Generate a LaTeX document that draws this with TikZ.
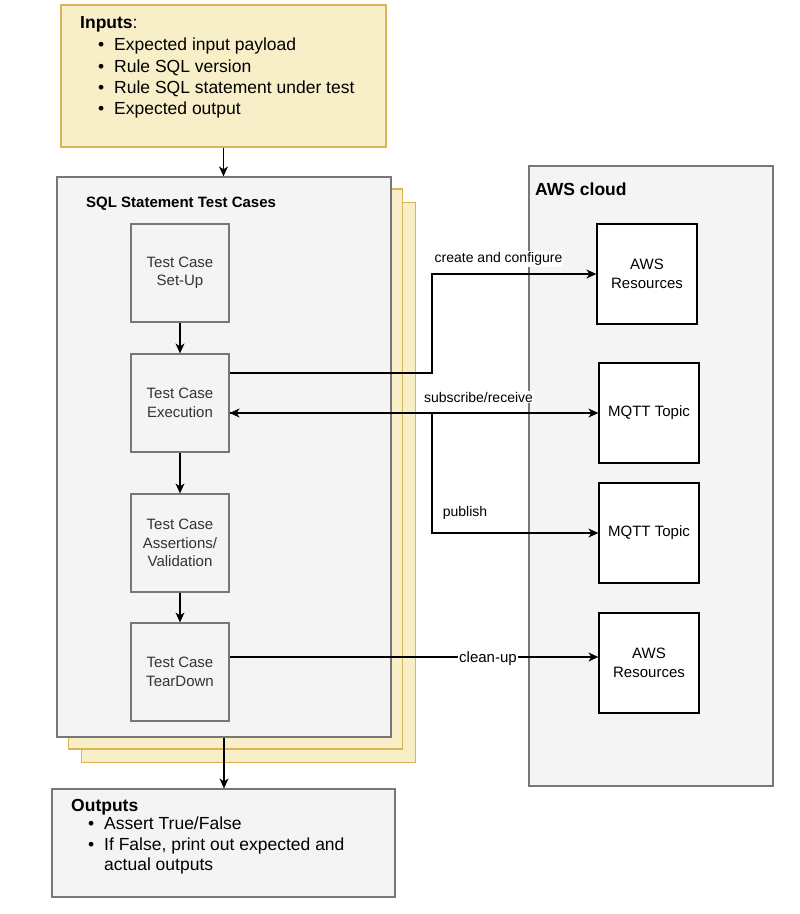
\documentclass[tikz,border=0pt]{standalone}
\usepackage{fontspec}
\setmainfont{Liberation Sans}
\usetikzlibrary{arrows.meta}
\definecolor{yfill}{HTML}{F8EEC8}
\definecolor{ydraw}{HTML}{D6B656}
\definecolor{gfill}{HTML}{F4F4F4}
\definecolor{gdraw}{HTML}{777777}
\definecolor{tgray}{HTML}{333333}
\begin{document}
\begin{tikzpicture}[x=1pt,y=-1pt,
  card/.style={draw=ydraw, fill=yfill, line width=1.25pt, minimum width=334pt, minimum height=560pt, inner sep=0pt},
  graybox/.style={draw=gdraw, fill=gfill, line width=1.25pt, inner sep=0pt},
  stepbox/.style={graybox, minimum width=98pt, minimum height=98pt, align=center, text=tgray,
     font=\fontsize{15}{18.5}\selectfont},
  awsbox/.style={draw=black, fill=white, line width=1.25pt, minimum width=100pt, minimum height=100pt,
     align=center, inner sep=0pt, font=\fontsize{15}{18.5}\selectfont},
  bigtxt/.style={anchor=base west, inner sep=0pt, font=\fontsize{17.5}{20}\selectfont},
  lbl/.style={inner sep=1pt, font=\fontsize{14}{16}\selectfont},
  tip/.style={},
  arr/.style={draw=black, line width=1.25pt, -{Stealth[length=10pt,width=9pt,inset=3pt]}},
  arrboth/.style={draw=black, line width=1.25pt, {Stealth[length=10pt,width=9pt,inset=3pt]}-{Stealth[length=10pt,width=9pt,inset=3pt]}}
]
\useasboundingbox (0,0) rectangle (800,914);

% Inputs
\node[draw=ydraw, fill=yfill, line width=1.25pt, minimum width=325pt, minimum height=142pt, inner sep=0pt] (inputs) at (223.5,76) {};
\node[bigtxt] (intitle) at (80,28) {\textbf{Inputs}:};
\node[bigtxt] (in1) at (98,50.5) {\makebox[16pt][l]{\textbullet}Expected input payload};
\node[bigtxt] (in2) at (98,72) {\makebox[16pt][l]{\textbullet}Rule SQL version};
\node[bigtxt] (in3) at (98,93.5) {\makebox[16pt][l]{\textbullet}Rule SQL statement under test};
\node[bigtxt] (in4) at (98,114.5) {\makebox[16pt][l]{\textbullet}Expected output};

% stacked cards
\node[card] (card2) at (248.5,482.5) {};
\node[card] (card1) at (235.5,469) {};
\node[graybox, minimum width=334pt, minimum height=560pt] (sql) at (224,457) {};
\node[anchor=base west, inner sep=0pt, font=\fontsize{15}{17}\selectfont\bfseries] (sqltitle) at (86,207) {SQL Statement Test Cases};

\node[stepbox] (setup) at (180,273) {Test Case\\Set-Up};
\node[stepbox] (exec) at (180,403) {Test Case\\Execution};
\node[stepbox] (assert) at (180,543) {Test Case\\Assertions/\\Validation};
\node[stepbox] (tear) at (180,672) {Test Case\\TearDown};

% Outputs
\node[graybox, minimum width=343pt, minimum height=108pt] (outputs) at (223.5,843) {};
\node[bigtxt] (outtitle) at (71,811) {\textbf{Outputs}};
\node[bigtxt] (out1) at (88,829.5) {\makebox[16pt][l]{\textbullet}Assert True/False};
\node[bigtxt] (out2) at (88,850) {\makebox[16pt][l]{\textbullet}If False, print out expected and};
\node[bigtxt] (out3) at (104,870.5) {actual outputs};

% AWS cloud
\node[graybox, minimum width=244pt, minimum height=620pt] (aws) at (651,476) {};
\node[bigtxt, font=\fontsize{17.5}{20}\selectfont\bfseries] (awstitle) at (535,195) {AWS cloud};
\node[awsbox] (res1) at (647,274) {AWS\\Resources};
\node[awsbox] (mq1) at (649,413) {MQTT Topic};
\node[awsbox] (mq2) at (649,533) {MQTT Topic};
\node[awsbox] (res2) at (649,663) {AWS\\Resources};

% coordinates
\coordinate (bendA) at (432,300);
\coordinate (bendB) at (432,470);
\coordinate (cuy) at (0,657);

% connectors
\draw[arr] (inputs.south) -- (inputs.south |- sql.north);
\draw[arr] (setup) -- (exec);
\draw[arr] (exec) -- (assert);
\draw[arr] (assert) -- (tear);
\draw[arr] (sql.south) -- (sql.south |- outputs.north);

\draw[arr] ([yshift=30pt]exec.east) -| (bendA) |- (res1.west);
\node[lbl, fill=white] (lcreate) at (498.5,259) {create and configure};

\draw[arrboth] (exec.east |- mq1.west) -- (mq1.west);
\node[lbl, fill=white] (lsub) at (478.5,397) {subscribe/receive};

\draw[arr] (exec.east |- mq1.west) -| (bendB) |- (mq2.west);
\draw[line width=2pt] (exec.east |- mq1.west) -- (bendB |- mq1.west);
\node[lbl] (lpub) at (465,513) {publish};

\draw[arr] (tear.east |- cuy) -- (res2.west |- cuy);
\node[lbl, fill=white, font=\fontsize{15}{17}\selectfont] (lclean) at (488,659) {clean-up};
\end{tikzpicture}
\end{document}
